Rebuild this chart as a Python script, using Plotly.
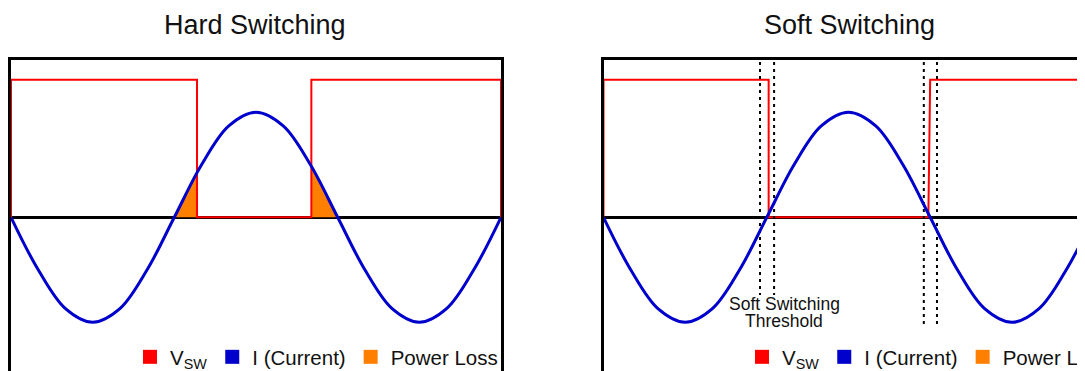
import plotly.graph_objects as go
from plotly.subplots import make_subplots

# phase of the switching period in degrees (read every 30 deg)
phase = [0, 30, 60, 90, 120, 150, 180, 210, 240, 270, 300, 330, 360,
         390, 420, 450, 480, 510, 540]
current = [0, -0.5, -0.87, -1, -0.87, -0.5, 0, 0.5, 0.87, 1, 0.87, 0.5, 0,
           -0.5, -0.87, -1, -0.87, -0.5, 0]

# switch voltage square wave
vsw_level = [0, 1.31, 1.31, 0, 0, 1.31, 1.31, 0]
vsw_hard_x = [0, 0, 205, 205, 331, 331, 540, 540]
vsw_soft_x = [0, 0, 182, 182, 358, 360, 540, 540]

# power loss areas (overlap of V and I)
loss_hard = [([179, 205, 205], [0, 0.43, 0]), ([331, 331, 360], [0, 0.49, 0])]
loss_soft = [([179, 183, 183], [0, 0.06, 0]), ([357, 357, 361], [0, 0.05, 0])]

# soft switching threshold markers
threshold_x = [172.5, 188, 353, 367.5]
threshold_bottom = [-0.74, -0.74, -1.05, -1.05]
threshold_top = 1.48

RED = "#ff0000"
BLUE = "#0000cc"
ORANGE = "#ff8000"
FONT = "Liberation Sans, Arial, sans-serif"

fig = make_subplots(rows=1, cols=2)

panels = [(1, loss_hard, vsw_hard_x, "legend"), (2, loss_soft, vsw_soft_x, "legend2")]
for col, losses, vx, leg in panels:
    for lx, ly in losses:
        fig.add_trace(go.Scatter(x=lx, y=ly, mode="lines", fill="toself",
                                 fillcolor=ORANGE, line=dict(width=0),
                                 showlegend=False, hoverinfo="skip"), row=1, col=col)
    fig.add_trace(go.Scatter(x=vx, y=vsw_level, mode="lines",
                             line=dict(color=RED, width=2), showlegend=False),
                  row=1, col=col)
    if col == 2:
        for tx, tb in zip(threshold_x, threshold_bottom):
            fig.add_trace(go.Scatter(x=[tx, tx], y=[threshold_top, tb], mode="lines",
                                     line=dict(color="black", width=2, dash="3px,4px"),
                                     showlegend=False), row=1, col=col)
    fig.add_trace(go.Scatter(x=phase, y=current, mode="lines",
                             line=dict(color=BLUE, width=3, shape="spline"),
                             showlegend=False), row=1, col=col)
    # legend entries
    for name, c in [("V<sub>SW</sub>", RED), ("I (Current)", BLUE), ("Power Loss", ORANGE)]:
        fig.add_trace(go.Scatter(x=[None], y=[None], mode="markers", name=name,
                                 marker=dict(symbol="square", size=14, color=c),
                                 legend=leg), row=1, col=col)

# page body adds an 8px offset, so the figure is laid out 8px up/left
W, H = 1077, 363
ml, mt = 3, 52
pw = W - ml
ph = H - mt
px_deg = 490 / 540

ax_common = dict(showgrid=False, showticklabels=False, ticks="", zeroline=False)
y_common = dict(range=[-1.464, 1.498], showline=True, linecolor="black",
                linewidth=2.6, showgrid=False, showticklabels=False, ticks="",
                zeroline=True, zerolinecolor="black", zerolinewidth=2.6)
fig.update_layout(
    xaxis=dict(domain=[0, 490 / pw], range=[0, 540], side="top",
               showline=True, linecolor="black", linewidth=2.6, **ax_common),
    xaxis2=dict(domain=[(595.5 - ml) / pw, 1], range=[0, (W - 595.5) / px_deg],
                side="top", showline=True, linecolor="black", linewidth=2.6, **ax_common),
    yaxis=dict(mirror=True, **y_common),
    yaxis2=dict(mirror=False, **y_common),
)

legend_common = dict(orientation="h", yanchor="middle", y=14 / ph,
                     font=dict(family=FONT, size=20.5, color="#111"),
                     bgcolor="rgba(0,0,0,0)", borderwidth=0)
fig.update_layout(
    legend=dict(xanchor="right", x=(495 - ml) / pw, **legend_common),
    legend2=dict(xanchor="left", x=(734 - ml) / pw, **legend_common),
)

ann = []
for text, cx in [("Hard Switching", 247), ("Soft Switching", 841)]:
    ann.append(dict(text=text, xref="paper", yref="paper", x=(cx - ml) / pw,
                    y=1 + (mt - 17) / ph, xanchor="center", yanchor="middle",
                    showarrow=False, font=dict(family=FONT, size=27, color="#111")))
for text, ty in [("Soft Switching", -0.825), ("Threshold", -0.99)]:
    ann.append(dict(text=text, xref="x2", yref="y2", x=199, y=ty, xanchor="center",
                    yanchor="middle", showarrow=False,
                    font=dict(family=FONT, size=17.5, color="#111")))

fig.update_layout(
    width=W, height=H,
    margin=dict(l=ml, r=0, t=mt, b=0, pad=0, autoexpand=False),
    paper_bgcolor="white", plot_bgcolor="white",
    annotations=ann,
    font=dict(family=FONT),
)

fig.write_html("out.html")
